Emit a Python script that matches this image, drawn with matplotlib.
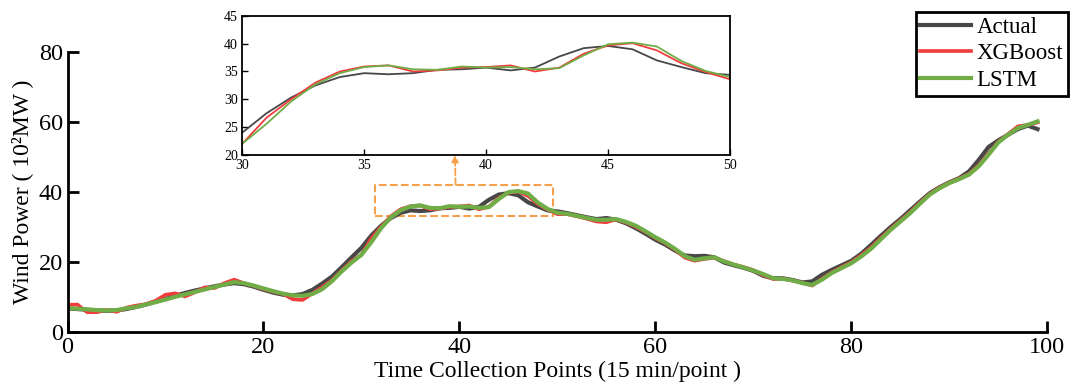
import matplotlib
matplotlib.use('Agg')
from matplotlib import pyplot as plt
import matplotlib.patches as patches
import numpy as np

plt.rcParams['font.family'] = ['Liberation Serif', 'DejaVu Serif']

# wind power values, 15 min points
actual = [6.7, 6.5, 6.3, 6.1, 6.0, 6.1, 6.5, 7.1, 7.8, 8.6,
          9.4, 10.3, 11.1, 11.8, 12.4, 13.0, 13.5, 13.9, 13.6, 12.9,
          12.0, 11.2, 10.6, 10.4, 10.8, 12.0, 13.8, 15.8, 18.5, 21.3,
          24.0, 27.5, 30.3, 32.5, 34.0, 34.7, 34.5, 34.7, 35.3, 35.4,
          35.7, 35.2, 35.7, 37.7, 39.2, 39.6, 39.0, 37.0, 35.8, 34.7,
          34.4, 33.9, 33.3, 32.7, 32.2, 32.5, 32.0, 31.0, 29.6, 28.0,
          26.3, 24.9, 23.2, 21.8, 21.6, 21.7, 21.3, 19.8, 19.0, 18.3,
          17.4, 16.0, 15.3, 15.3, 14.8, 14.1, 14.4, 16.3, 17.7, 19.0,
          20.3, 22.3, 24.8, 27.4, 29.9, 32.2, 34.7, 37.2, 39.6, 41.3,
          42.7, 43.9, 45.8, 49.1, 52.8, 54.7, 56.3, 57.9, 58.9, 57.9]

xgboost = [7.7, 7.8, 5.6, 5.6, 6.3, 5.7, 6.9, 7.5, 7.9, 8.9,
           10.6, 11.0, 10.1, 11.3, 12.7, 12.5, 13.9, 14.9, 13.9, 13.1,
           12.2, 11.5, 10.8, 9.3, 9.1, 11.0, 12.8, 14.8, 17.6, 20.2,
           22.0, 26.7, 30.0, 33.0, 35.0, 35.9, 36.1, 35.0, 35.2, 35.7,
           35.8, 36.1, 35.0, 35.7, 38.2, 39.7, 40.1, 38.8, 36.5, 34.9,
           33.6, 33.6, 33.0, 32.3, 31.5, 31.3, 32.1, 31.2, 30.0, 28.5,
           26.8, 25.3, 23.5, 21.2, 20.3, 20.8, 21.2, 20.2, 19.2, 18.5,
           17.6, 16.2, 15.1, 15.2, 14.6, 14.0, 13.2, 15.2, 17.0, 18.5,
           19.9, 21.9, 24.1, 26.8, 29.4, 31.8, 34.2, 36.9, 39.4, 41.2,
           42.6, 43.8, 45.1, 47.6, 50.9, 54.3, 56.5, 58.7, 59.1, 59.8]

lstm = [6.8, 6.6, 6.4, 6.2, 6.1, 6.2, 6.7, 7.1, 7.8, 8.5,
        9.2, 10.0, 10.7, 11.4, 12.1, 12.8, 13.5, 14.2, 13.9, 13.2,
        12.4, 11.6, 10.9, 10.4, 10.3, 10.8, 12.2, 14.5, 17.3, 19.8,
        22.0, 25.6, 29.6, 32.7, 34.7, 35.8, 36.1, 35.4, 35.3, 35.9,
        35.7, 35.8, 35.4, 35.6, 37.9, 39.9, 40.2, 39.5, 36.9, 35.1,
        34.0, 33.7, 33.1, 32.5, 32.0, 32.0, 32.2, 31.4, 30.3, 28.7,
        27.0, 25.5, 23.7, 21.6, 20.6, 21.0, 21.3, 20.1, 19.2, 18.4,
        17.5, 16.5, 15.3, 15.1, 14.7, 13.9, 13.4, 14.9, 16.8, 18.2,
        19.6, 21.5, 23.7, 26.4, 29.1, 31.5, 33.9, 36.6, 39.2, 41.0,
        42.5, 43.6, 44.9, 47.3, 50.6, 54.1, 56.3, 58.2, 59.1, 60.1]

labels = ['Actual', 'XGBoost', 'LSTM']
colors = ['#474747', '#f03c3c', '#70ad47']
x = np.arange(len(actual))

fig = plt.figure(figsize=(10.72, 3.89), dpi=100)
ax = fig.add_axes([0.063, 0.147, 0.914, 0.72])

series = [actual, xgboost, lstm]
widths = [3.0, 2.6, 3.0]
for s, c, lab, w in zip(series, colors, labels, widths):
    ax.plot(x, s, color=c, lw=w, label=lab)

ax.set_xlim(0, 100)
ax.set_ylim(0, 80)
ax.set_xticks([0, 20, 40, 60, 80, 100])
ax.set_yticks([0, 20, 40, 60, 80])
for sp in ['top', 'right']:
    ax.spines[sp].set_visible(False)
for sp in ['left', 'bottom']:
    ax.spines[sp].set_linewidth(2)
ax.tick_params(direction='in', length=8, width=2, labelsize=17.5)
ax.set_xlabel('Time Collection Points (15 min/point )', fontsize=17, labelpad=2)
ax.set_ylabel('Wind Power ( 10²MW )', fontsize=17, labelpad=4)

leg = ax.legend(loc='upper right', bbox_to_anchor=(0.996, 0.969),
                bbox_transform=fig.transFigure, fontsize=16.5, fancybox=False,
                framealpha=1, edgecolor='black', borderaxespad=0,
                handlelength=2.2, handletextpad=0.25, labelspacing=0.25,
                borderpad=0.2)
leg.get_frame().set_linewidth(2)

# zoom box + arrow
orange = '#f7a04b'
rect = patches.Rectangle((31.4, 33), 18.1, 9, fill=False, ls='--',
                         ec=orange, lw=1.5)
ax.add_patch(rect)
ax.annotate('', xy=(0.4244, 0.6015), xycoords='figure fraction',
            xytext=(39.6, 42), textcoords='data',
            arrowprops=dict(arrowstyle='-|>', ls='--', color=orange,
                            lw=1.3, mutation_scale=10, shrinkA=0, shrinkB=0))

# inset
axin = fig.add_axes([0.226, 0.602, 0.455, 0.357])
lo, hi = 30, 51
for s, c in zip(series, colors):
    axin.plot(x[lo:hi], s[lo:hi], color=c, lw=1.3)
axin.set_xlim(30, 50)
axin.set_ylim(20, 45)
axin.set_xticks([30, 35, 40, 45, 50])
axin.set_yticks([20, 25, 30, 35, 40, 45])
for sp in axin.spines.values():
    sp.set_linewidth(1.3)
axin.tick_params(direction='in', length=4, width=1, labelsize=10)
axin.tick_params(axis='x', pad=3)
axin.tick_params(axis='y', pad=3)

plt.savefig('out.png', dpi=100)
